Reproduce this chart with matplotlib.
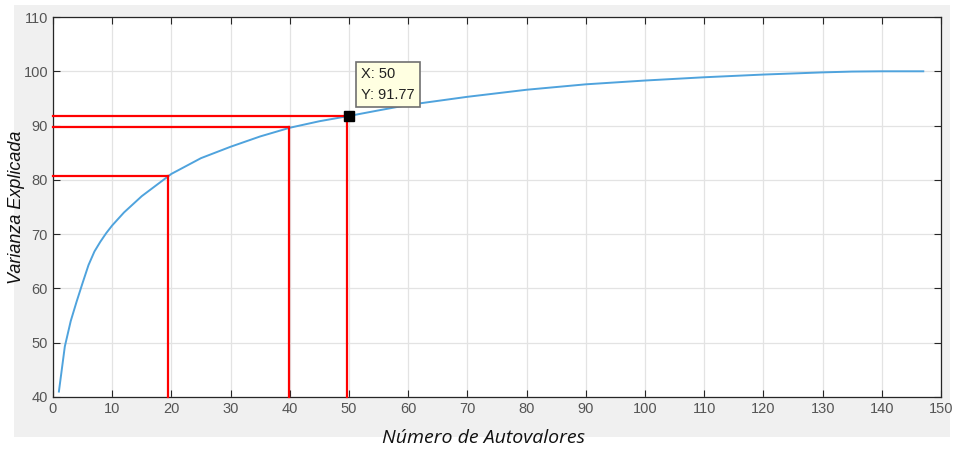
import matplotlib.pyplot as plt
from matplotlib.patches import Rectangle

# cumulative explained variance vs number of eigenvalues
n_eig = [1, 2, 3, 4, 5, 6, 7, 8, 9, 10, 12, 15, 20, 25, 30, 35, 40, 45, 50,
         55, 60, 70, 80, 90, 100, 110, 120, 130, 135, 140, 147]
var_exp = [41.0, 49.3, 54.0, 57.6, 61.0, 64.3, 66.8, 68.6, 70.2, 71.6, 74.0, 77.0,
           81.1, 84.0, 86.1, 88.0, 89.6, 90.8, 91.77, 92.8, 93.8, 95.3, 96.6,
           97.6, 98.3, 98.9, 99.4, 99.8, 99.95, 100.0, 100.0]

# red guide lines (x where the vertical drops, y where the horizontal sits)
guide_x = [19.4, 39.8, 49.6]
guide_y = [80.7, 89.8, 91.77]

tip_x, tip_y = 50, 91.77

plt.rcParams['font.family'] = ['Liberation Sans', 'DejaVu Sans']

fig = plt.figure(figsize=(9.58, 4.5), dpi=100)
fig.patch.set_facecolor('white')
fig.patches.append(Rectangle((0.0146, 0.029), 0.977, 0.96, transform=fig.transFigure,
                             facecolor='#f0f0f0', edgecolor='none', zorder=-10))

ax = fig.add_axes([0.0553, 0.1178, 0.927, 0.8444])
ax.set_facecolor('white')

ax.plot(n_eig, var_exp, color='#4fa3dd', lw=1.4, zorder=3)

for gx, gy in zip(guide_x, guide_y):
    ax.plot([0, gx], [gy, gy], color='red', lw=1.6, zorder=4, clip_on=False)
    ax.plot([gx, gx], [40, gy], color='red', lw=1.6, zorder=4, clip_on=False)

# data tip
ax.plot([tip_x], [tip_y], marker='s', ms=7, color='black', zorder=6)
ax.text(52.0, 100.8, f'X: {tip_x}\nY: {tip_y}', fontsize=10.5, color='#222222',
        va='top', ha='left', linespacing=1.6, zorder=7,
        bbox=dict(boxstyle='square,pad=0.35', facecolor='#ffffe1', edgecolor='#707070', lw=1.2))

ax.set_xlim(0, 150)
ax.set_ylim(40, 110)
ax.set_xticks(range(0, 151, 10))
ax.set_yticks(range(40, 111, 10))
ax.grid(True, color='#e3e3e3', lw=0.9)
ax.set_axisbelow(True)

ax.tick_params(direction='in', length=5, width=0.8, colors='#262626',
               labelcolor='#555555', labelsize=10.5, top=True, right=True)
for s in ax.spines.values():
    s.set_color('#262626')
    s.set_linewidth(0.9)

fig.text(0.505, 1 - 438 / 450, 'Número de Autovalores', fontsize=14, fontstyle='italic',
         family='Open Sans', ha='center', va='center', color='#111111')
fig.text(17 / 958, 1 - 207 / 450, 'Varianza Explicada', fontsize=13, fontstyle='italic',
         ha='center', va='center', rotation=90, color='#111111')

fig.savefig('out.png', dpi=100)
